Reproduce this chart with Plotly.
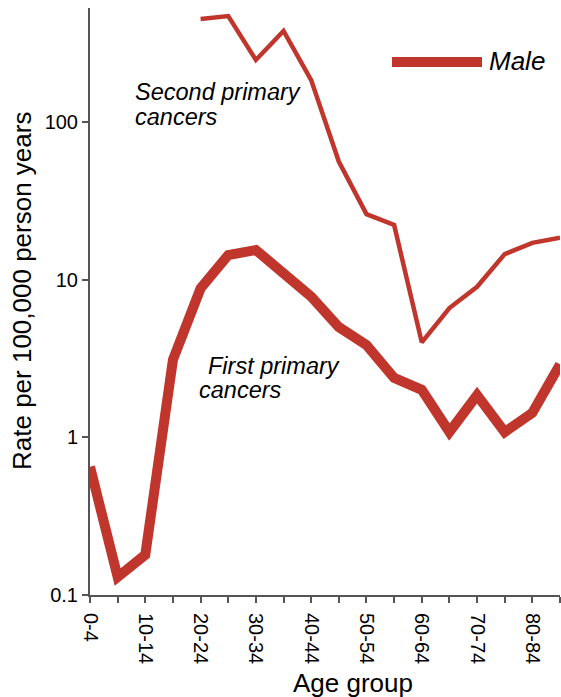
import plotly.graph_objects as go

age_groups = ["0-4", "5-9", "10-14", "15-19", "20-24", "25-29", "30-34", "35-39",
              "40-44", "45-49", "50-54", "55-59", "60-64", "65-69", "70-74",
              "75-79", "80-84", "85+"]
first_primary = [0.65, 0.13, 0.18, 3.1, 8.8, 14.3, 15.4, 11.0, 7.8, 5.0, 3.85,
                 2.38, 2.0, 1.08, 1.85, 1.08, 1.43, 2.9]
second_primary = [None, None, None, None, 449, 469, 247, 377, 184, 56, 26,
                  22.2, 4.0, 6.6, 9.0, 14.5, 17.1, 18.4]
x_tick_labels = [a if i % 2 == 0 else "" for i, a in enumerate(age_groups)]
y_tick_vals = [0.1, 1, 10, 100]
y_tick_text = ["0.1", "1", "10", "100"]

RED = "#c0362c"
FONT = "Liberation Sans, Arial, sans-serif"

L, R, T, B, W, H = 90, 1, 8, 102, 561, 697
PW, PH = W - L - R, H - T - B


def px(x):
    return (x - L) / PW


def py(y):
    return (H - B - y) / PH


fig = go.Figure()
fig.add_trace(go.Scatter(x=age_groups, y=second_primary, mode="lines",
                         line=dict(color=RED, width=4.5), connectgaps=False,
                         showlegend=False))
fig.add_trace(go.Scatter(x=age_groups, y=first_primary, mode="lines",
                         line=dict(color=RED, width=10), showlegend=False))

fig.update_layout(
    width=W, height=H,
    margin=dict(l=L, r=R, t=T, b=B),
    paper_bgcolor="white", plot_bgcolor="white",
    font=dict(family=FONT, color="black"),
    xaxis=dict(type="category", range=[0, 17], tickmode="array", automargin=False,
               tickvals=age_groups, ticktext=x_tick_labels, tickangle=90,
               ticks="outside", ticklen=6, tickcolor="#555", tickwidth=1.5,
               ticklabelstandoff=6,
               showline=True, linecolor="#555", linewidth=2,
               showgrid=False, zeroline=False,
               tickfont=dict(size=20, family=FONT)),
    yaxis=dict(type="log", range=[-1, 2.722], tickmode="array", automargin=False,
               tickvals=y_tick_vals, ticktext=y_tick_text,
               ticks="outside", ticklen=6, tickcolor="#555", tickwidth=1.5,
               showline=True, linecolor="#555", linewidth=2,
               showgrid=False, zeroline=False,
               tickfont=dict(size=20, family=FONT)),
)

# axis titles
fig.add_annotation(xref="paper", yref="paper", x=px(353), y=py(683),
                   text="Age group", showarrow=False, xanchor="center", yanchor="middle",
                   font=dict(size=26, family=FONT))
fig.add_annotation(xref="paper", yref="paper", x=px(22), y=py(291),
                   text="Rate per 100,000 person years", showarrow=False, textangle=-90,
                   xanchor="center", yanchor="middle",
                   font=dict(size=26, family=FONT))

# legend swatch
fig.add_shape(type="line", xref="paper", yref="paper",
              x0=px(392), x1=px(482), y0=py(62), y1=py(62),
              line=dict(color=RED, width=10))
fig.add_annotation(xref="paper", yref="paper", x=px(487), y=py(61),
                   text="<i>Male</i>", showarrow=False, xanchor="left", yanchor="middle",
                   font=dict(size=26, family=FONT))

# series labels
labels = [("Second primary", 133, 92), ("cancers", 133, 117),
          ("First primary", 206, 366), ("cancers", 197, 390)]
for txt, lx, ly in labels:
    fig.add_annotation(xref="paper", yref="paper", x=px(lx), y=py(ly),
                       text="<i>" + txt + "</i>", showarrow=False,
                       xanchor="left", yanchor="middle",
                       font=dict(size=23.5, family=FONT))

fig.write_html("out.html",
               config={"displayModeBar": False},
               post_script="document.body.style.margin='0px';document.body.style.overflow='hidden';")
